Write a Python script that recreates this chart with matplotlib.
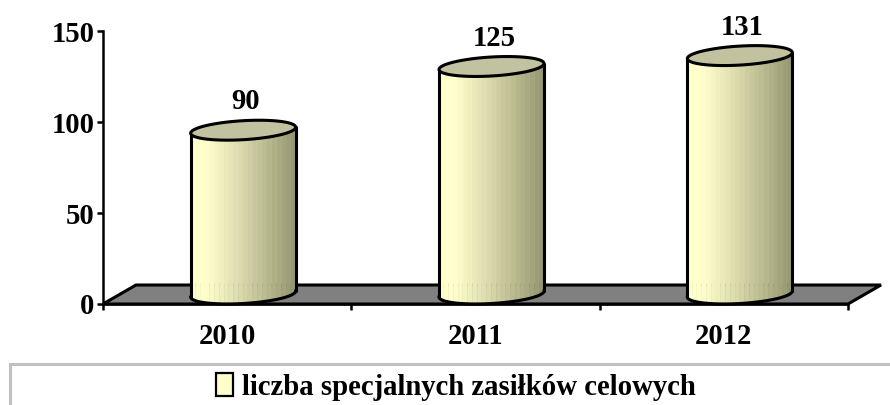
import numpy as np
import matplotlib
matplotlib.use("Agg")
import matplotlib.pyplot as plt
from matplotlib.patches import Polygon, Rectangle, Patch
from matplotlib.colors import to_rgb

years = ["2010", "2011", "2012"]
values = [90, 125, 131]
y_ticks = [0, 50, 100, 150]
legend_label = "liczba specjalnych zasiłków celowych"

plt.rcParams["font.family"] = ["Liberation Serif", "DejaVu Serif"]
plt.rcParams["font.weight"] = "bold"

W, H = 890, 405
fig = plt.figure(figsize=(W / 100, H / 100), dpi=100)
L, R, B, T = 103, 848, 304, 31
ax = fig.add_axes([L / W, 1 - B / H, (R - L) / W, (B - T) / H])
ax.set_xlim(-0.5, 2.5)
ax.set_ylim(0, 150)
ax.patch.set_alpha(0)

px = 3.0 / (R - L)        # data x per pixel
py = 150.0 / (B - T)      # data y per pixel
FS = 20.6

# floor (pseudo-3D)
DX, DY = 33 * px, 19 * py
ax.add_patch(Polygon([(-0.5, 0), (2.5, 0), (2.5 + DX, DY), (-0.5 + DX, DY)],
                     closed=True, facecolor="#808080", edgecolor="black",
                     lw=2.2, clip_on=False, zorder=1, joinstyle="miter"))

# cylinders
BW = 105 * px / 2          # half width
SHEAR = 3 * py
BH = 9.5 * py
OX, OY = 16 * px, 10 * py
LIGHT = np.array(to_rgb("#FFFFCC"))
DARK = np.array(to_rgb("#94946F"))
TOP = "#C2C2A0"


def shade(f):
    # f runs 0..1 from left to right
    if f < 0.14:
        return LIGHT
    return LIGHT + (DARK - LIGHT) * ((f - 0.14) / 0.86) ** 1.1


def edge(xc, yc, t):
    return xc + BW * np.cos(t), yc + SHEAR * np.cos(t) + BH * np.sin(t)


for i, v in enumerate(values):
    xc = i + OX
    yb, yt = OY, v + OY
    n = 22
    edges = np.linspace(0, 1, n + 1)
    for a, b in zip(edges[:-1], edges[1:]):
        # lower half of the ellipse, walked left to right
        ta = np.linspace(np.pi + np.arccos(1 - 2 * a), np.pi + np.arccos(1 - 2 * b), 4)
        xs, ys_b = edge(xc, yb, ta)
        _, ys_t = edge(xc, yt, ta)
        pts = list(zip(xs, ys_b)) + list(zip(xs[::-1], ys_t[::-1]))
        ax.add_patch(Polygon(pts, closed=True, facecolor=shade((a + b) / 2),
                             edgecolor=shade((a + b) / 2), lw=0.3, clip_on=False, zorder=3))
    t = np.linspace(0, 2 * np.pi, 200)
    tx, ty = edge(xc, yt, t)
    ax.add_patch(Polygon(np.c_[tx, ty], closed=True, facecolor=TOP, edgecolor="black",
                         lw=2.2, clip_on=False, zorder=5))
    tb = np.linspace(np.pi, 2 * np.pi, 100)
    bx, by = edge(xc, yb, tb)
    ax.plot(bx, by, color="black", lw=2.2, clip_on=False, zorder=4)
    ax.plot([xc - BW, xc - BW], [yb - SHEAR, yt - SHEAR], color="black", lw=2.2,
            clip_on=False, zorder=4, solid_capstyle="round")
    ax.plot([xc + BW, xc + BW], [yb + SHEAR, yt + SHEAR], color="black", lw=2.2,
            clip_on=False, zorder=4, solid_capstyle="round")
    ax.annotate(str(v), (xc, yt), xytext=(2, 20.5), textcoords="offset points",
                ha="center", va="center", fontsize=FS, fontweight="bold",
                color="black", zorder=6, annotation_clip=False)

# axes
for s in ["top", "right"]:
    ax.spines[s].set_visible(False)
for s in ["left", "bottom"]:
    ax.spines[s].set_linewidth(1.8)
    ax.spines[s].set_zorder(2)
ax.set_yticks(y_ticks)
ax.set_xticks(range(len(years)))
ax.set_xticklabels(years)
ax.tick_params(axis="y", length=4, width=1.8, labelsize=FS, pad=2)
ax.tick_params(axis="x", length=0, labelsize=FS, pad=14)
# ticks at category boundaries
ax.set_xticks([-0.5, 0.5, 1.5, 2.5], minor=True)
ax.tick_params(axis="x", which="minor", length=4, width=1.8, direction="out")

# legend frame running off the right edge
fig.add_artist(Rectangle((10 / W, -0.05), 1.0, 1 - 363.5 / H + 0.05,
                         transform=fig.transFigure, facecolor="white",
                         edgecolor="#C0C0C0", lw=2.2))
fig.legend(handles=[Patch(facecolor="#FFFFCC", edgecolor="black", linewidth=1.6, label=legend_label)],
           loc="center", bbox_to_anchor=(456 / W, 1 - 387 / H), frameon=False,
           handlelength=0.58, handleheight=0.85, handletextpad=0.3,
           borderpad=0, prop={"family": "Liberation Serif", "weight": "bold", "size": 20.7})

fig.savefig("out.png", dpi=100)
